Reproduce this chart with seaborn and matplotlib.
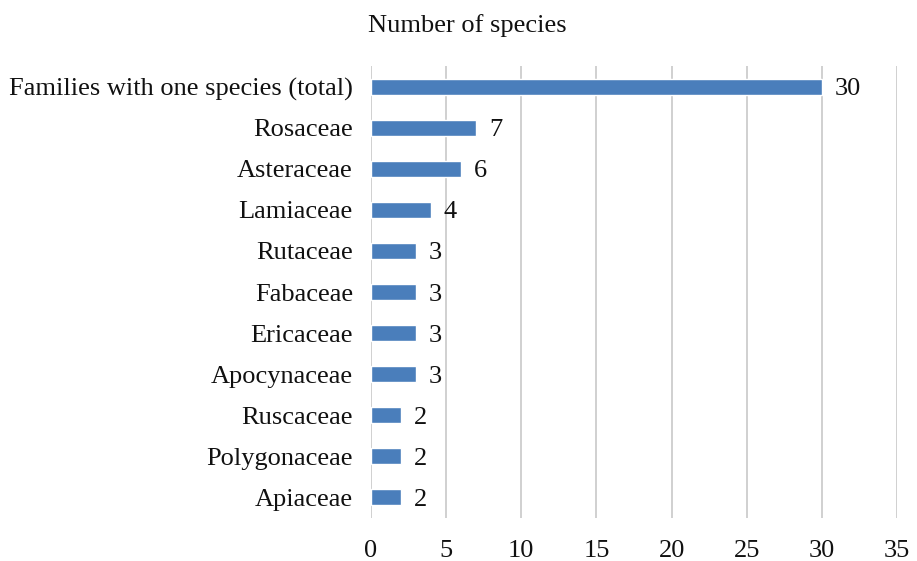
import matplotlib
matplotlib.use("Agg")
import matplotlib.pyplot as plt
import seaborn as sns
import pandas as pd

families = ["Families with one species (total)", "Rosaceae", "Asteraceae", "Lamiaceae",
            "Rutaceae", "Fabaceae", "Ericaceae", "Apocynaceae", "Ruscaceae",
            "Polygonaceae", "Apiaceae"]
species = [30, 7, 6, 4, 3, 3, 3, 3, 2, 2, 2]
xticks = [0, 5, 10, 15, 20, 25, 30, 35]

df = pd.DataFrame({"family": families, "species": species})

sns.set_theme(style="white")
plt.rcParams["font.family"] = ["Liberation Serif", "DejaVu Serif"]

fig = plt.figure(figsize=(9.17, 5.61), dpi=100)
ax = fig.add_axes([0.4046, 0.077, 0.5736, 0.805])

sns.barplot(data=df, y="family", x="species", color="#4a7ebb", saturation=1,
            width=0.38, orient="h", ax=ax, zorder=3)

ax.set_xlim(0, 35)
ax.set_ylim(10.5, -0.5)
ax.set_xticks(xticks)
ax.set_xticklabels([str(t) for t in xticks], fontsize=19)
ax.tick_params(axis="x", length=0, pad=16, colors="#111111")
ax.tick_params(axis="y", length=0, pad=13, labelsize=19, colors="#111111")
for lbl in ax.get_yticklabels():
    lbl.set_verticalalignment("center_baseline")
ax.set_xlabel("")
ax.set_ylabel("")
ax.grid(axis="x", color="#c8c8c8", linewidth=1.2, zorder=0)
ax.grid(axis="y", visible=False)
for s in ax.spines.values():
    s.set_visible(False)

for i, v in enumerate(species):
    ax.text(v + 0.85, i, str(v), va="center_baseline", ha="left", fontsize=19, color="#111111")

fig.text(0.51, 0.955, "Number of species", ha="center", va="center", fontsize=19, color="#111111")

fig.savefig("out.png", dpi=100)
